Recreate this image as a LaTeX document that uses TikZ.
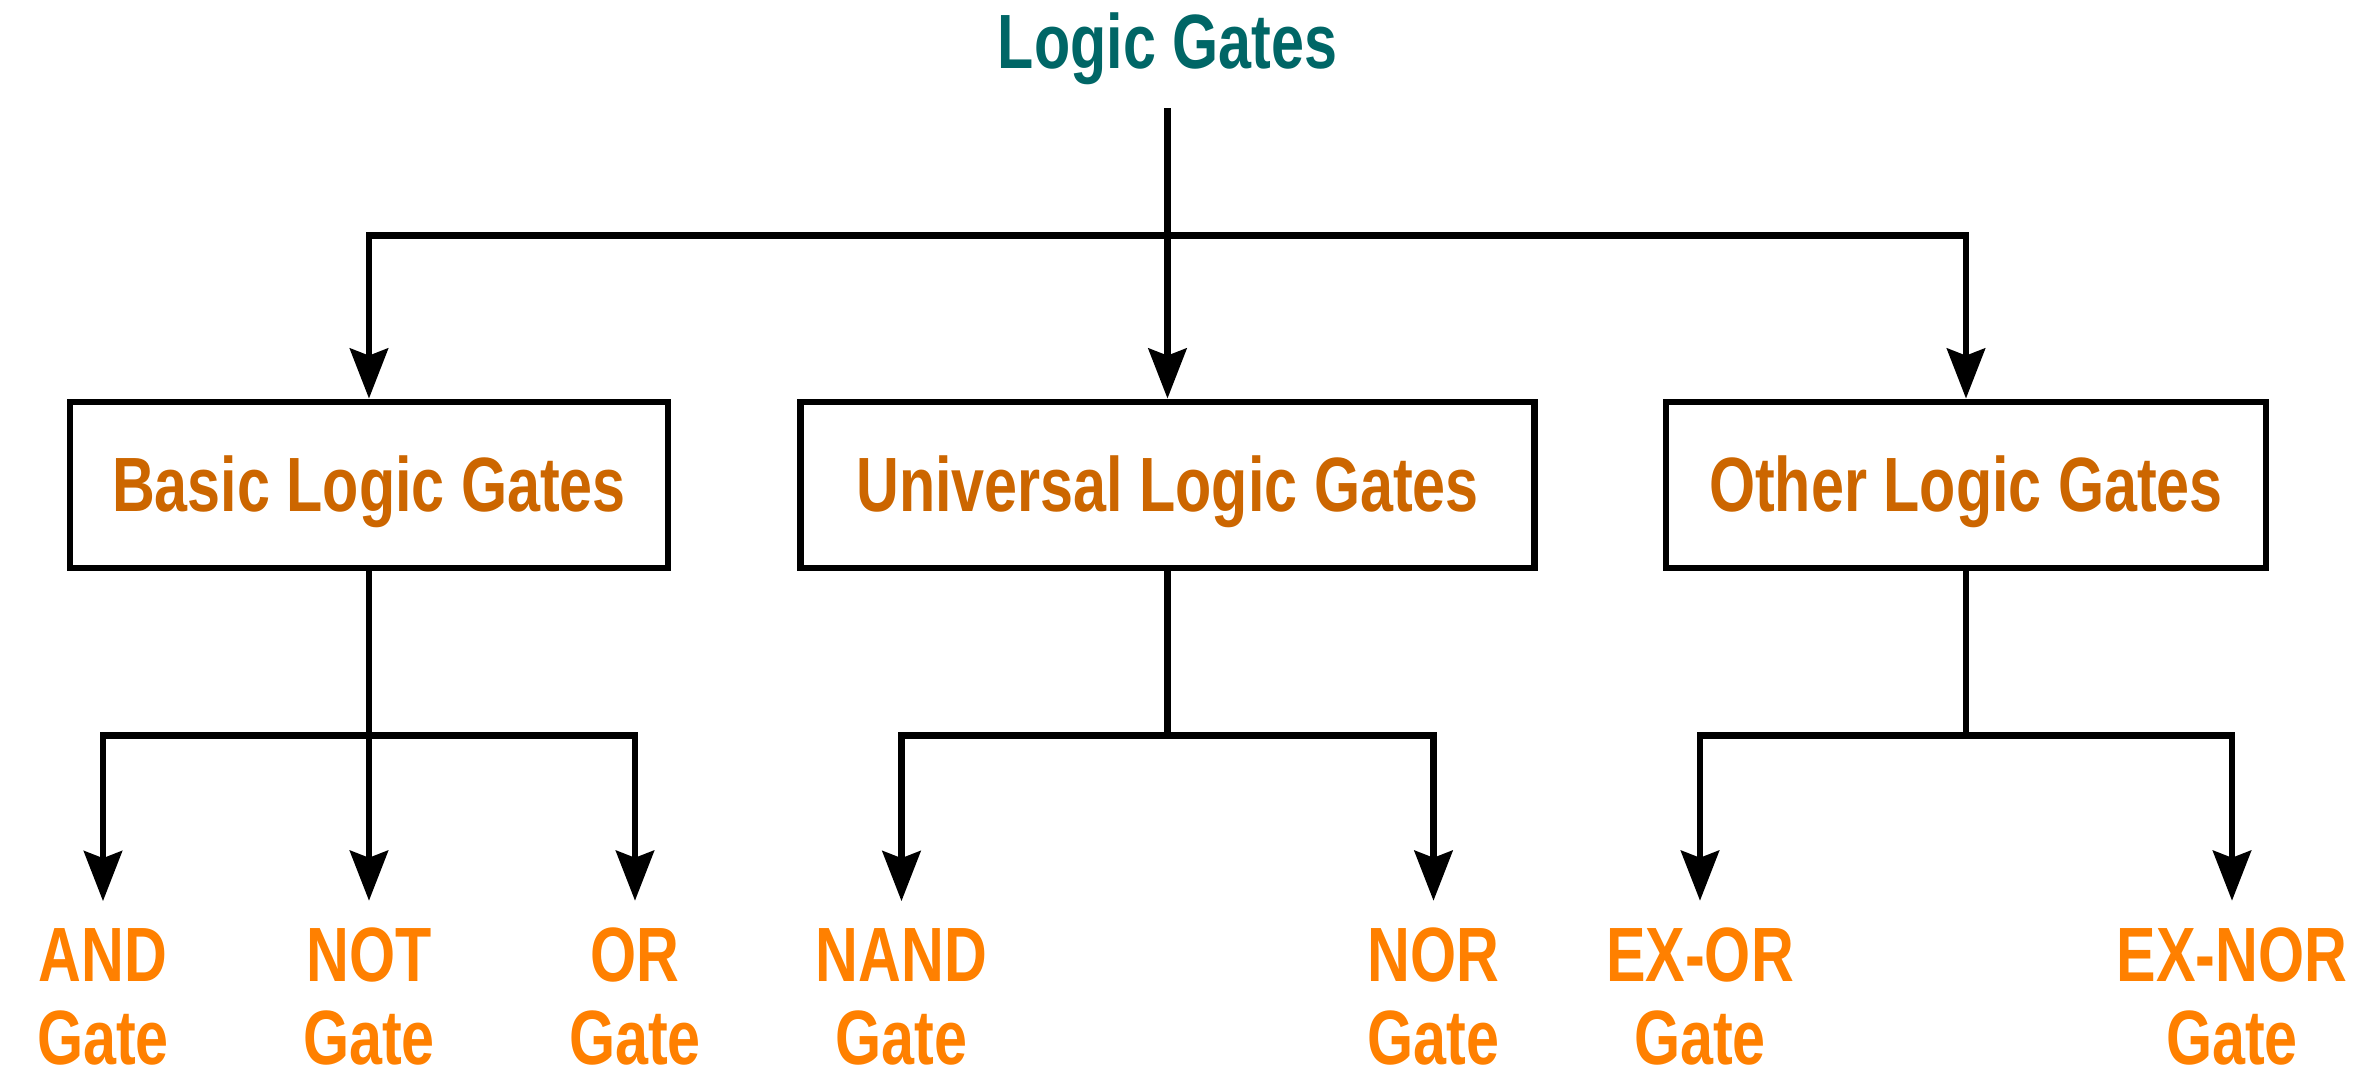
\documentclass[tikz,border=0pt]{standalone}
\usepackage{fontspec}
\setmainfont{Liberation Sans}[FakeStretch=0.77]
\usetikzlibrary{arrows.meta}
\definecolor{titleteal}{HTML}{006666}
\definecolor{familyorange}{HTML}{CC6600}
\definecolor{gateorange}{HTML}{FF8000}

\begin{document}
\begin{tikzpicture}[line width=0.68mm, level distance=44.25mm,
  title/.style = {titleteal, text height=5.3mm, text depth=0pt, inner ysep=3.6mm},
  family/.style = {familyorange, draw=black, rectangle, minimum height=16.6mm, text height=5.3mm, text depth=0pt},
  gate/.style = {gateorange, align=center, inner ysep=2.7mm, outer sep=0pt},
  level 1/.style = {sibling distance=79.85mm,
    edge from parent path={(\tikzparentnode.south) -- ++(0,-12.7mm) -| (\tikzchildnode.north)}},
  level 2/.style = {sibling distance=26.6mm, level distance=51.15mm,
    edge from parent path={(\tikzparentnode.south) -- ++(0,-16.4mm) -| (\tikzchildnode.north)}},
  every node/.style = {font=\fontsize{21.9pt}{23.6pt}\selectfont\bfseries},
  edge from parent/.style = {draw, black, -{Stealth[length=5mm, width=3.8mm, inset=0.7mm]}},
  ]
  \useasboundingbox (-116.75mm,4.25mm) rectangle (119.95mm,-103.55mm);
  \node[title] (logic) {Logic Gates}
  child { node[family, minimum width=59.8mm] (basic) {Basic Logic Gates}
          child { node[gate] (and) {AND\\Gate} }
          child { node[gate] (not) {NOT\\Gate} }
          child { node[gate] (or) {OR\\Gate} }
        }
  child { node[family, minimum width=73.4mm] (universal) {Universal Logic Gates}
          child { node[gate] (nand) {NAND\\Gate} }
          child[missing]
          child { node[gate] (nor) {NOR\\Gate} }
        }
  child { node[family, minimum width=60mm] (other) {Other Logic Gates}
          child { node[gate] (exor) {EX-OR\\Gate} }
          child[missing]
          child { node[gate] (exnor) {EX-NOR\\Gate} }
        };
\end{tikzpicture}
\end{document}
